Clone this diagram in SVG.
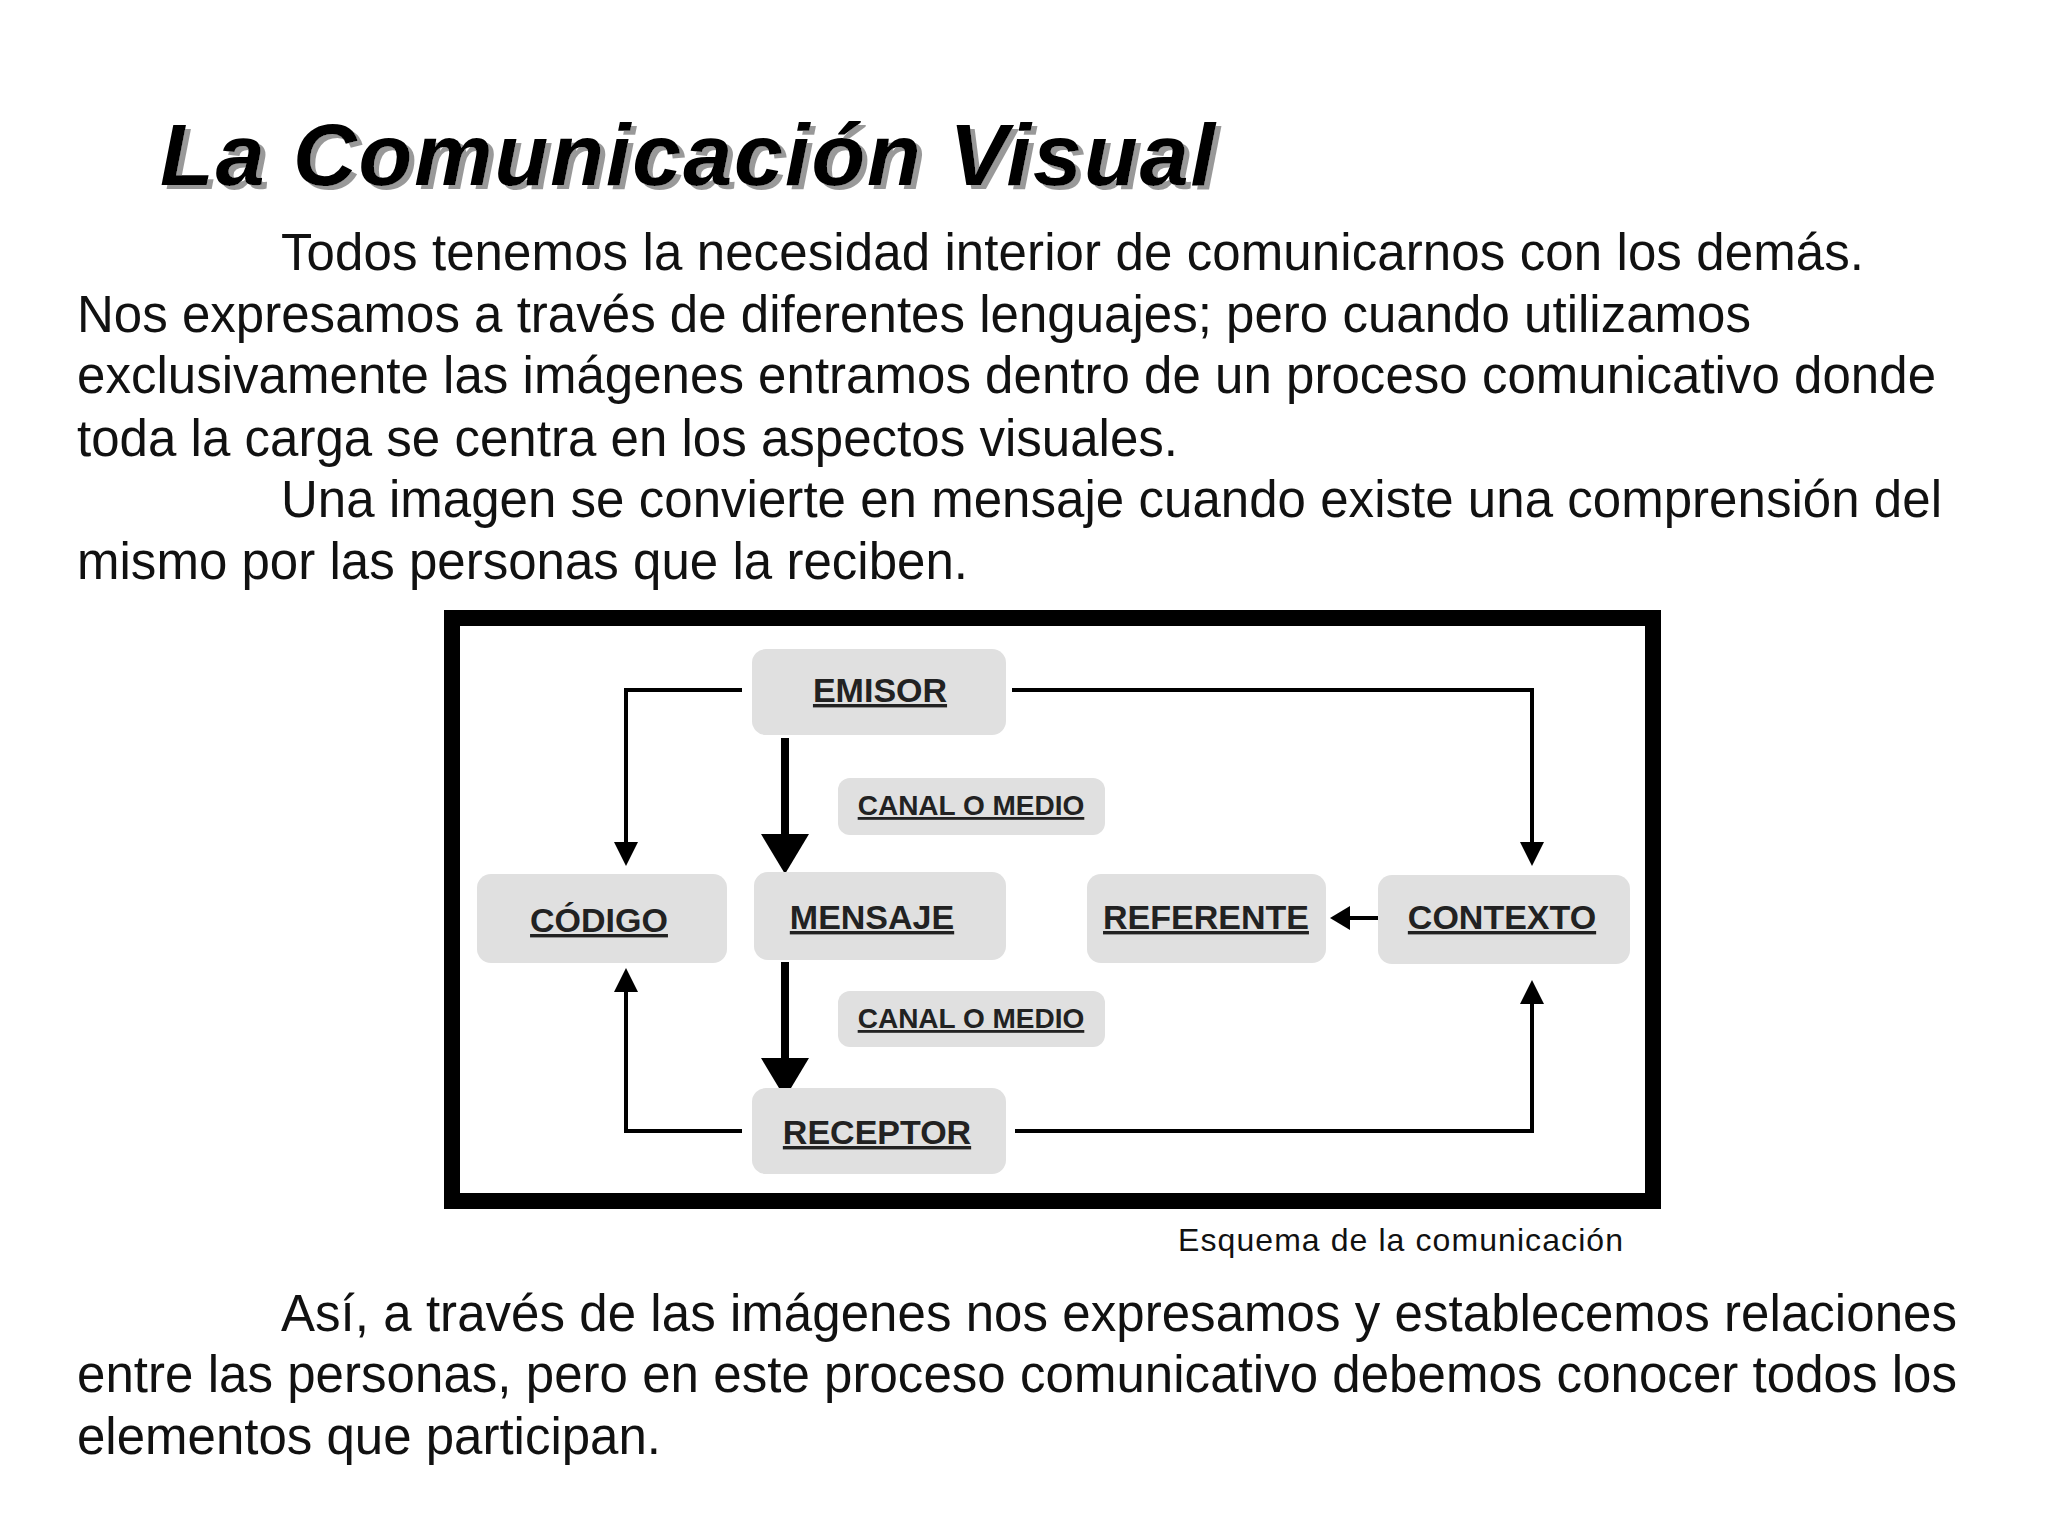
<svg xmlns="http://www.w3.org/2000/svg" width="2048" height="1536" viewBox="0 0 2048 1536">
<defs>
<style>
.body{font-family:"Liberation Sans",Arial,sans-serif;font-size:51px;fill:#111}
.node rect{fill:#e0e0e0}
.node text{font-family:"Liberation Sans",Arial,sans-serif;font-weight:bold;font-size:34px;fill:#222;text-anchor:middle;text-decoration:underline}
.small text{font-size:28px}
.thin{fill:none;stroke:#000;stroke-width:4}
.thick{fill:none;stroke:#000;stroke-width:8}
</style>
<filter id="sh" x="-5%" y="-20%" width="110%" height="140%">
<feOffset in="SourceAlpha" dx="5" dy="4" result="o"/>
<feFlood flood-color="#999"/><feComposite in2="o" operator="in" result="s"/>
<feMerge><feMergeNode in="s"/><feMergeNode in="SourceGraphic"/></feMerge>
</filter>
<marker id="ah" markerWidth="6" markerHeight="6" refX="5" refY="3" orient="auto" markerUnits="strokeWidth"><path d="M0,0 L6,3 L0,6 z" fill="#000"/></marker>
<marker id="ahb" markerWidth="5" markerHeight="6" refX="4" refY="3" orient="auto" markerUnits="strokeWidth"><path d="M0,0 L5,3 L0,6 z" fill="#000"/></marker>
</defs>
<rect width="2048" height="1536" fill="#fff"/>
<g id="title" font-family="Liberation Sans,Arial,sans-serif" font-weight="bold" font-style="italic" font-size="88">
<text x="160" y="185" fill="#000" textLength="1055" filter="url(#sh)">La Comunicación Visual</text>
</g>
<g id="paragraph1">
<text class="body" x="281" y="270" textLength="1583">Todos tenemos la necesidad interior de comunicarnos con los demás.</text>
<text class="body" x="77" y="332" textLength="1674">Nos expresamos a través de diferentes lenguajes; pero cuando utilizamos</text>
<text class="body" x="77" y="393" textLength="1859">exclusivamente las imágenes entramos dentro de un proceso comunicativo donde</text>
<text class="body" x="77" y="456" textLength="1101">toda la carga se centra en los aspectos visuales.</text>
<text class="body" x="281" y="517" textLength="1661">Una imagen se convierte en mensaje cuando existe una comprensión del</text>
<text class="body" x="77" y="579" textLength="891">mismo por las personas que la reciben.</text>
</g>
<rect id="frame" x="452" y="618" width="1201" height="583" fill="none" stroke="#000" stroke-width="16"/>
<g id="connectors">
<path class="thin" d="M742,690 H626 V862" marker-end="url(#ah)"/>
<path class="thin" d="M1012,690 H1532 V862" marker-end="url(#ah)"/>
<path class="thin" d="M742,1131 H626 V972" marker-end="url(#ah)"/>
<path class="thin" d="M1015,1131 H1532 V984" marker-end="url(#ah)"/>
<path class="thin" d="M1387,918 H1334" stroke-width="6" marker-end="url(#ahb)"/>
<path class="thick" d="M785,738 V866" marker-end="url(#ahb)"/>
<path class="thick" d="M785,962 V1090" marker-end="url(#ahb)"/>
</g>
<g id="emisor" class="node"><rect x="752" y="649" width="254" height="86" rx="14"/><text x="880" y="702">EMISOR</text></g>
<g id="canal1" class="node small"><rect x="838" y="778" width="267" height="57" rx="12"/><text x="971" y="815">CANAL O MEDIO</text></g>
<g id="codigo" class="node"><rect x="477" y="874" width="250" height="89" rx="14"/><text x="599" y="932">CÓDIGO</text></g>
<g id="mensaje" class="node"><rect x="754" y="872" width="252" height="88" rx="14"/><text x="872" y="929">MENSAJE</text></g>
<g id="referente" class="node"><rect x="1087" y="874" width="239" height="89" rx="14"/><text x="1206" y="929">REFERENTE</text></g>
<g id="contexto" class="node"><rect x="1378" y="875" width="252" height="89" rx="14"/><text x="1502" y="929">CONTEXTO</text></g>
<g id="canal2" class="node small"><rect x="838" y="991" width="267" height="56" rx="12"/><text x="971" y="1028">CANAL O MEDIO</text></g>
<g id="receptor" class="node"><rect x="752" y="1088" width="254" height="86" rx="14"/><text x="877" y="1144">RECEPTOR</text></g>
<text id="caption" x="1178" y="1251" font-family="Liberation Sans,Arial,sans-serif" font-size="32" fill="#111" textLength="445">Esquema de la comunicación</text>
<g id="paragraph2">
<text class="body" x="281" y="1331" textLength="1676">Así, a través de las imágenes nos expresamos y establecemos relaciones</text>
<text class="body" x="77" y="1392" textLength="1880">entre las personas, pero en este proceso comunicativo debemos conocer todos los</text>
<text class="body" x="77" y="1454" textLength="584">elementos que participan.</text>
</g>
</svg>
